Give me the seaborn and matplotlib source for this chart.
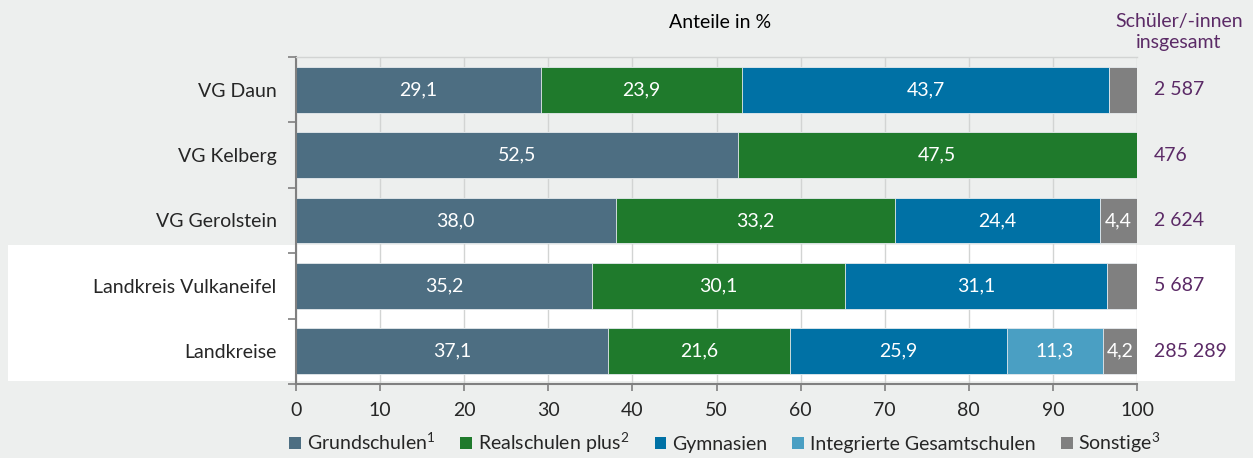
import numpy as np
import pandas as pd
import seaborn as sns
import matplotlib.pyplot as plt
from matplotlib.patches import Rectangle
from matplotlib.transforms import blended_transform_factory

# Daten (Anteile in %)
regionen = ['VG Daun', 'VG Kelberg', 'VG Gerolstein', 'Landkreis Vulkaneifel', 'Landkreise']
grundschulen = [29.1, 52.5, 38.0, 35.2, 37.1]
realschulen_plus = [23.9, 47.5, 33.2, 30.1, 21.6]
gymnasien = [43.7, 0.0, 24.4, 31.1, 25.9]
gesamtschulen = [0.0, 0.0, 0.0, 0.0, 11.3]
sonstige = [3.3, 0.0, 4.4, 3.6, 4.2]
insgesamt = ['2 587', '476', '2 624', '5 687', '285 289']

serien = ['Grundschulen$^1$', 'Realschulen plus$^2$', 'Gymnasien', 'Integrierte Gesamtschulen', 'Sonstige$^3$']
werte = [grundschulen, realschulen_plus, gymnasien, gesamtschulen, sonstige]
farben = ['#4d6e82', '#1f7a2c', '#0071a5', '#4a9fc3', '#808080']

bg = '#edefee'
lila = '#5b2a66'
fs = 14

sns.set_theme(style='white')
plt.rcParams['font.family'] = ['Lato', 'DejaVu Sans']
plt.rcParams['mathtext.fontset'] = 'custom'
plt.rcParams['mathtext.rm'] = 'Lato'
plt.rcParams['mathtext.it'] = 'Lato'
plt.rcParams['mathtext.default'] = 'regular'

fig = plt.figure(figsize=(12.53, 4.58), dpi=100, facecolor=bg)
# weisses Band hinter den beiden unteren Zeilen
fig.patches.append(Rectangle((8 / 1253, 1 - 381 / 458), (1235 - 8) / 1253, (381 - 245) / 458,
                             transform=fig.transFigure, facecolor='white', edgecolor='none', zorder=-1))
ax = fig.add_axes([296 / 1253, 1 - 384 / 458, (1137 - 296) / 1253, (384 - 57) / 458])
ax.set_facecolor('none')

# gestapelte Balken: kumulierte Summen, von hinten nach vorne zeichnen
kum = np.cumsum(np.array(werte), axis=0)
for i in range(len(serien) - 1, -1, -1):
    df = pd.DataFrame({'region': regionen, 'wert': kum[i]})
    sns.barplot(data=df, x='wert', y='region', orient='h', color=farben[i], width=0.7,
                edgecolor='#e8ecef', linewidth=0.6, saturation=1, ax=ax, zorder=2)

# Beschriftung in den Balken
for i in range(len(serien)):
    for j in range(len(regionen)):
        v = werte[i][j]
        if v >= 4:
            ax.text(kum[i][j] - v / 2, j, f'{v:.1f}'.replace('.', ','), ha='center', va='center',
                    color='white', fontsize=fs, zorder=3)

# Schüler insgesamt
tr = blended_transform_factory(fig.transFigure, ax.transData)
for j, t in enumerate(insgesamt):
    ax.text(1154 / 1253, j, t, transform=tr, ha='left', va='center', color=lila, fontsize=fs)
fig.text(1179 / 1253, 1 - 32 / 458, 'Schüler/-innen\ninsgesamt', ha='center', va='center',
         color=lila, fontsize=14, linespacing=1.25)
fig.text(720 / 1253, 1 - 23 / 458, 'Anteile in %', ha='center', va='center', color='black', fontsize=fs)

# Achsen
ax.set_xlim(0, 100)
ax.set_ylim(4.5, -0.5)
ax.set_xticks(range(0, 101, 10))
ax.tick_params(axis='x', length=5, width=1.2, color='#808080', labelsize=fs, pad=8, bottom=True)
ax.set_yticks(range(len(regionen)))
ax.set_yticklabels(regionen)
ax.tick_params(axis='y', which='major', length=0, pad=14, labelsize=fs)
ax.set_yticks(np.arange(-0.5, 5, 1), minor=True)
ax.tick_params(axis='y', which='minor', length=6, width=1.2, color='#808080', left=True)
ax.set_xlabel('')
ax.set_ylabel('')
ax.grid(axis='x', color='#d2d4d3', linewidth=1)
ax.set_axisbelow(True)
for s in ['left', 'bottom']:
    ax.spines[s].set_color('#808080')
    ax.spines[s].set_linewidth(1.5)
ax.spines['top'].set_color('#d2d4d3')
ax.spines['top'].set_linewidth(1)
ax.spines['right'].set_visible(False)

# Legende
handles = [Rectangle((0, 0), 1, 1, facecolor=c, edgecolor='none') for c in farben]
fig.legend(handles, serien, loc='center', bbox_to_anchor=(725 / 1253, 1 - 443 / 458), ncol=5,
           frameon=False, fontsize=fs, handlelength=0.6, handleheight=0.6, handletextpad=0.3,
           columnspacing=1.3)

fig.savefig('out.png', dpi=100, facecolor=bg)
